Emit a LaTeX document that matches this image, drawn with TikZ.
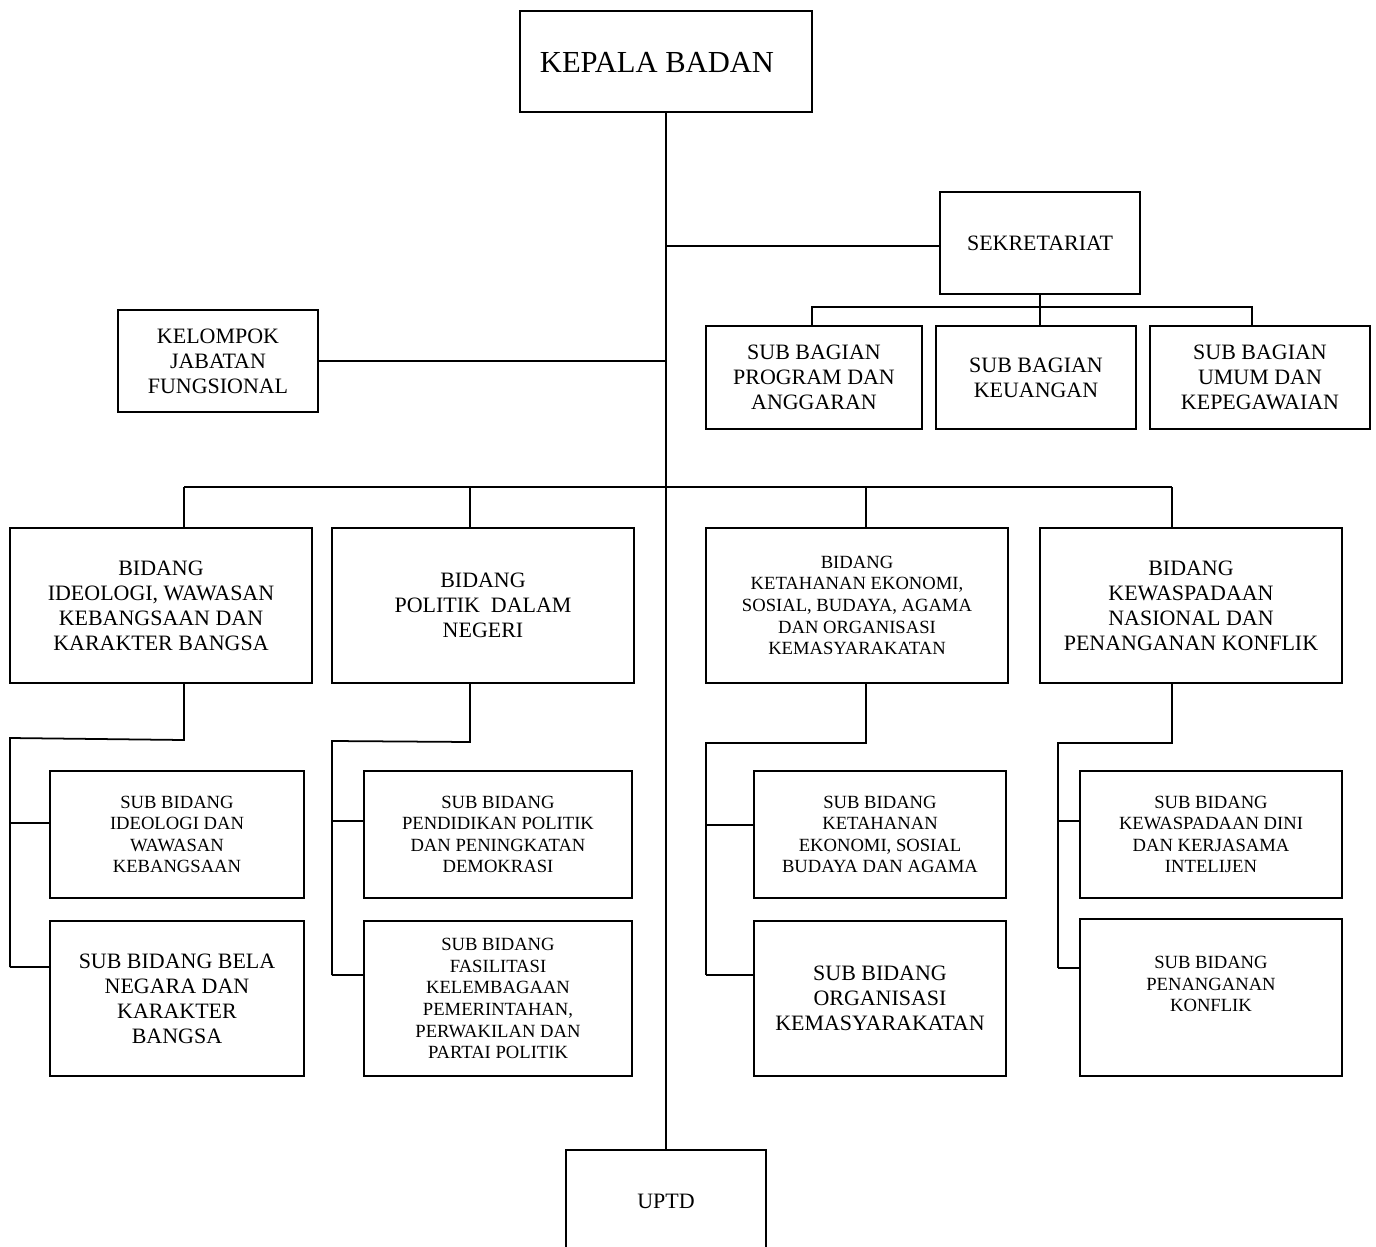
\documentclass[tikz,border=0pt]{standalone}
\usepackage{fontspec}
\setmainfont{Liberation Serif}
% box from (x1,y1) to (x2,y2) in picture units, with a style and its text
\newcommand\orgbox[7]{%
  \node[box,#6,minimum width={(#4-#2)*0.02cm},minimum height={(#5-#3)*0.02cm}]
    (#1) at ({(#2+#4)/2},{(#3+#5)/2}) {#7};}
\begin{document}
\begin{tikzpicture}[x=0.02cm,y=-0.02cm,
  box/.style={draw, line width=1pt, inner sep=0pt, align=center},
  conn/.style={draw, line width=1pt},
  smalltext/.style={font=\fontsize{10.6}{12.3}\selectfont},
  largetext/.style={font=\fontsize{12.5}{14.2}\selectfont},
  bigtext/.style={font=\fontsize{17.4}{20}\selectfont}]
\fill[white] (0,0) rectangle (1376,1247);
\clip (0,0) rectangle (1376,1247);

% head, secretariat and functional group
\orgbox{kb}{520}{11}{812}{112}{}{}
\node[bigtext, inner sep=0pt] (kbt) at (657,62) {KEPALA BADAN};
\orgbox{sek}{940}{192}{1140}{294}{largetext}{SEKRETARIAT}
\orgbox{kjf}{118}{310}{318}{412}{largetext}{KELOMPOK\\JABATAN\\FUNGSIONAL}
\orgbox{sb1}{706}{326}{922}{429}{largetext}{SUB BAGIAN\\PROGRAM DAN\\ANGGARAN}
\orgbox{sb2}{936}{326}{1136}{429}{largetext}{SUB BAGIAN\\KEUANGAN}
\orgbox{sb3}{1150}{326}{1370}{429}{largetext}{SUB BAGIAN\\UMUM DAN\\KEPEGAWAIAN}

% bidang
\orgbox{b1}{10}{528}{312}{683}{largetext}{BIDANG\\IDEOLOGI, WAWASAN\\KEBANGSAAN DAN\\KARAKTER BANGSA}
\orgbox{b2}{332}{528}{634}{683}{largetext}{BIDANG\\POLITIK\ \ DALAM\\NEGERI}
\orgbox{b3}{706}{528}{1008}{683}{smalltext}{BIDANG\\KETAHANAN EKONOMI,\\SOSIAL, BUDAYA, AGAMA\\DAN ORGANISASI\\KEMASYARAKATAN}
\orgbox{b4}{1040}{528}{1342}{683}{largetext}{BIDANG\\KEWASPADAAN\\NASIONAL DAN\\PENANGANAN KONFLIK}

% sub bidang
\orgbox{s11}{50}{771}{304}{898}{smalltext}{SUB BIDANG\\IDEOLOGI DAN\\WAWASAN\\KEBANGSAAN}
\orgbox{s12}{50}{921}{304}{1076}{largetext}{SUB BIDANG BELA\\NEGARA DAN\\KARAKTER\\BANGSA}
\orgbox{s21}{364}{771}{632}{898}{smalltext}{SUB BIDANG\\PENDIDIKAN POLITIK\\DAN PENINGKATAN\\DEMOKRASI}
\orgbox{s22}{364}{921}{632}{1076}{smalltext}{SUB BIDANG\\FASILITASI\\KELEMBAGAAN\\PEMERINTAHAN,\\PERWAKILAN DAN\\PARTAI POLITIK}
\orgbox{s31}{754}{771}{1006}{898}{smalltext}{SUB BIDANG\\KETAHANAN\\EKONOMI, SOSIAL\\BUDAYA DAN AGAMA}
\orgbox{s32}{754}{921}{1006}{1076}{largetext}{SUB BIDANG\\ORGANISASI\\KEMASYARAKATAN}
\orgbox{s41}{1080}{771}{1342}{898}{smalltext}{SUB BIDANG\\KEWASPADAAN DINI\\DAN KERJASAMA\\INTELIJEN}
\orgbox{s42}{1080}{919}{1342}{1076}{}{}
\node[smalltext, align=center, inner sep=0pt] (s42t) at (1211,984) {SUB BIDANG\\PENANGANAN\\KONFLIK};

% unit at the foot, running past the lower edge
\orgbox{uptd}{566}{1150}{766}{1252}{largetext}{UPTD}

% main spine and side branches
\draw[conn] (kb.south) -- (uptd.north);
\draw[conn] (sek.west |- 0,246) -- (kb.south |- 0,246);
\draw[conn] (kjf.east) -- (kjf.east -| kb.south);

% secretariat bar
\coordinate (sbar) at (1040,307);
\draw[conn] (sek.south) -- (sbar);
\draw[conn] (sb1.north -| 812,0) -- (812,307) -- (1252,307) -- (sb3.north -| 1252,0);
\draw[conn] (sb2.north -| sbar) -- (sbar);

% bidang bar
\coordinate (t1) at (184,487);
\coordinate (t2) at (470,487);
\coordinate (t3) at (866,487);
\coordinate (t4) at (1172,487);
\draw[conn] (t1) -- (t4);
\draw[conn] (t1) -- (t1 |- b1.north);
\draw[conn] (t2) -- (t2 |- b2.north);
\draw[conn] (t3) -- (t3 |- b3.north);
\draw[conn] (t4) -- (t4 |- b4.north);

% bidang to sub bidang
\coordinate (e1) at (184,740); \coordinate (r1) at (10,738);
\draw[conn] (e1 |- b1.south) -- (e1) -- (r1) -- (10,967);
\draw[conn] (r1 |- 0,823) -- (s11.west |- 0,823);
\draw[conn] (r1 |- 0,967) -- (s12.west |- 0,967);

\coordinate (e2) at (470,742); \coordinate (r2) at (332,741);
\draw[conn] (e2 |- b2.south) -- (e2) -- (r2) -- (332,975);
\draw[conn] (r2 |- 0,821) -- (s21.west |- 0,821);
\draw[conn] (r2 |- 0,975) -- (s22.west |- 0,975);

\coordinate (e3) at (866,743); \coordinate (r3) at (706,743);
\draw[conn] (e3 |- b3.south) -- (e3) -- (r3) -- (706,975);
\draw[conn] (r3 |- 0,825) -- (s31.west |- 0,825);
\draw[conn] (r3 |- 0,975) -- (s32.west |- 0,975);

\coordinate (e4) at (1172,743); \coordinate (r4) at (1058,743);
\draw[conn] (e4 |- b4.south) -- (e4) -- (r4) -- (1058,968);
\draw[conn] (r4 |- 0,821) -- (s41.west |- 0,821);
\draw[conn] (r4 |- 0,968) -- (s42.west |- 0,968);
\end{tikzpicture}
\end{document}
